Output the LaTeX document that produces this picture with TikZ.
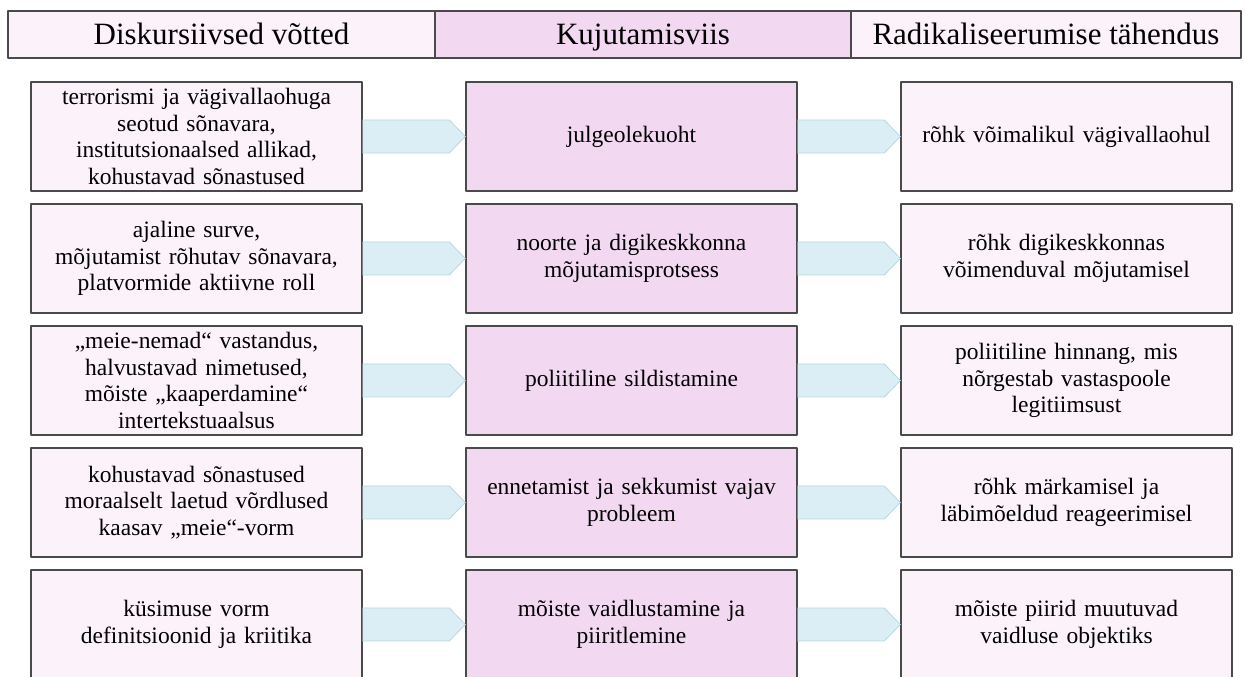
\documentclass[tikz,border=0pt]{standalone}
\usepackage{fontspec}
\setmainfont{Liberation Serif}
\definecolor{lightpink}{HTML}{FBF2FA}
\definecolor{midpink}{HTML}{F2D9F1}
\definecolor{boxline}{HTML}{4A4A4A}
\definecolor{chevfill}{HTML}{DCEEF5}
\definecolor{chevline}{HTML}{B7D6E0}
\tikzset{
  headcell/.style={draw=boxline,line width=1.4pt,minimum height=47pt,inner sep=0pt,text height=20.5pt,text depth=0pt,font=\fontsize{31}{34}\selectfont},
  vbox/.style={draw=boxline,fill=lightpink,line width=1.4pt,minimum width=331pt,minimum height=109pt,text width=325pt,align=center,inner sep=0pt,font=\fontsize{23.5}{26.7}\selectfont},
  kbox/.style={vbox,fill=midpink},
  chev/.style={draw=chevline,fill=chevfill,line width=0.8pt,line join=miter}
}

\begin{document}
\begin{tikzpicture}[line cap=round,line join=round,x=1pt,y=1pt]
      \useasboundingbox (0,0) rectangle (1245,677);
      \clip (0,0) rectangle (1245,677);
      % header
      \node[headcell,fill=lightpink,minimum width=427pt] (hv) at (221.5,642.5) {Diskursiivsed võtted};
      \node[headcell,fill=midpink,minimum width=416pt] (hk) at (643,642.5) {Kujutamisviis};
      \node[headcell,fill=lightpink,minimum width=390pt] (hr) at (1046,642.5) {Radikaliseerumise tähendus};
      % left column
      \node[vbox] (v1) at (196.5,540.5) {terrorismi ja vägivallaohuga\\seotud sõnavara,\\institutsionaalsed allikad,\\kohustavad sõnastused};
      \node[vbox] (v2) at (196.5,418.5) {ajaline surve,\\mõjutamist rõhutav sõnavara,\\platvormide aktiivne roll};
      \node[vbox] (v3) at (196.5,296.5) {„meie-nemad“ vastandus,\\halvustavad nimetused,\\mõiste „kaaperdamine“\\intertekstuaalsus};
      \node[vbox] (v4) at (196.5,174.5) {kohustavad sõnastused\\moraalselt laetud võrdlused\\kaasav „meie“-vorm};
      \node[vbox] (v5) at (196.5,52.5) {küsimuse vorm\\definitsioonid ja kriitika};
      % middle column
      \node[kbox] (k1) at (631.5,540.5) {julgeolekuoht};
      \node[kbox] (k2) at (631.5,418.5) {noorte ja digikeskkonna\\mõjutamisprotsess};
      \node[kbox] (k3) at (631.5,296.5) {poliitiline sildistamine};
      \node[kbox] (k4) at (631.5,174.5) {ennetamist ja sekkumist vajav\\probleem};
      \node[kbox] (k5) at (631.5,52.5) {mõiste vaidlustamine ja\\piiritlemine};
      % right column
      \node[vbox] (r1) at (1066.5,540.5) {rõhk võimalikul vägivallaohul};
      \node[vbox] (r2) at (1066.5,418.5) {rõhk digikeskkonnas\\võimenduval mõjutamisel};
      \node[vbox] (r3) at (1066.5,296.5) {poliitiline hinnang, mis\\nõrgestab vastaspoole\\legitiimsust};
      \node[vbox] (r4) at (1066.5,174.5) {rõhk märkamisel ja\\läbimõeldud reageerimisel};
      \node[vbox] (r5) at (1066.5,52.5) {mõiste piirid muutuvad\\vaidluse objektiks};
      % arrows
      \draw[chev] ([yshift=16.5pt]v1.east) -- ([xshift=-16pt,yshift=16.5pt]k1.west) -- (k1.west) -- ([xshift=-16pt,yshift=-16.5pt]k1.west) -- ([yshift=-16.5pt]v1.east);
      \draw[chev] ([yshift=16.5pt]v2.east) -- ([xshift=-16pt,yshift=16.5pt]k2.west) -- (k2.west) -- ([xshift=-16pt,yshift=-16.5pt]k2.west) -- ([yshift=-16.5pt]v2.east);
      \draw[chev] ([yshift=16.5pt]v3.east) -- ([xshift=-16pt,yshift=16.5pt]k3.west) -- (k3.west) -- ([xshift=-16pt,yshift=-16.5pt]k3.west) -- ([yshift=-16.5pt]v3.east);
      \draw[chev] ([yshift=16.5pt]v4.east) -- ([xshift=-16pt,yshift=16.5pt]k4.west) -- (k4.west) -- ([xshift=-16pt,yshift=-16.5pt]k4.west) -- ([yshift=-16.5pt]v4.east);
      \draw[chev] ([yshift=16.5pt]v5.east) -- ([xshift=-16pt,yshift=16.5pt]k5.west) -- (k5.west) -- ([xshift=-16pt,yshift=-16.5pt]k5.west) -- ([yshift=-16.5pt]v5.east);
      \draw[chev] ([yshift=16.5pt]k1.east) -- ([xshift=-16pt,yshift=16.5pt]r1.west) -- (r1.west) -- ([xshift=-16pt,yshift=-16.5pt]r1.west) -- ([yshift=-16.5pt]k1.east);
      \draw[chev] ([yshift=16.5pt]k2.east) -- ([xshift=-16pt,yshift=16.5pt]r2.west) -- (r2.west) -- ([xshift=-16pt,yshift=-16.5pt]r2.west) -- ([yshift=-16.5pt]k2.east);
      \draw[chev] ([yshift=16.5pt]k3.east) -- ([xshift=-16pt,yshift=16.5pt]r3.west) -- (r3.west) -- ([xshift=-16pt,yshift=-16.5pt]r3.west) -- ([yshift=-16.5pt]k3.east);
      \draw[chev] ([yshift=16.5pt]k4.east) -- ([xshift=-16pt,yshift=16.5pt]r4.west) -- (r4.west) -- ([xshift=-16pt,yshift=-16.5pt]r4.west) -- ([yshift=-16.5pt]k4.east);
      \draw[chev] ([yshift=16.5pt]k5.east) -- ([xshift=-16pt,yshift=16.5pt]r5.west) -- (r5.west) -- ([xshift=-16pt,yshift=-16.5pt]r5.west) -- ([yshift=-16.5pt]k5.east);
    \end{tikzpicture}
\end{document}
